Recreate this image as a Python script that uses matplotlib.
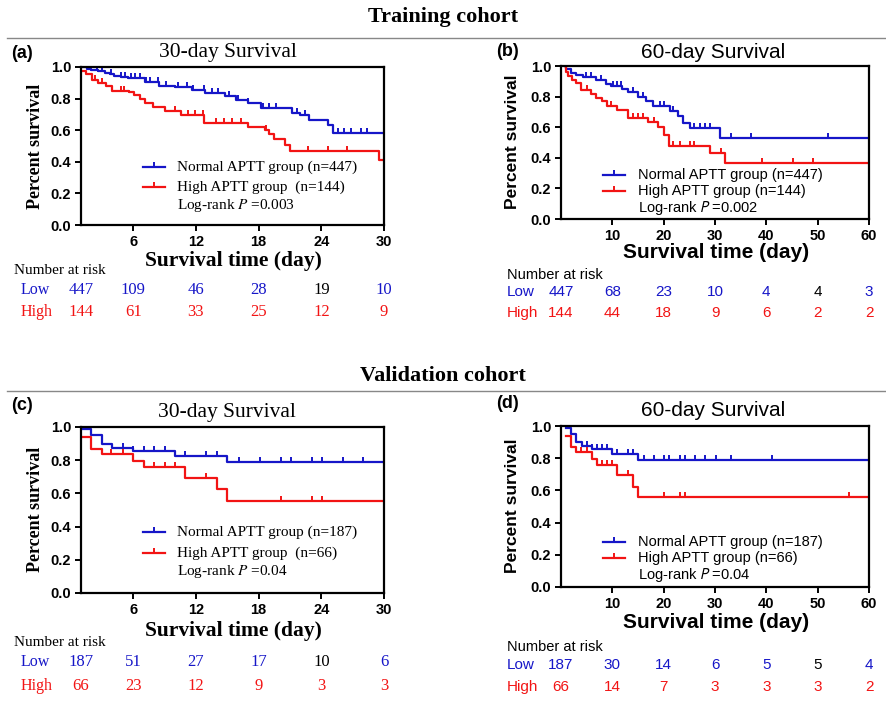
import numpy as np
import matplotlib
matplotlib.use('Agg')
import matplotlib.pyplot as plt
import matplotlib.transforms as mtransforms
from matplotlib.path import Path
from matplotlib.lines import Line2D

W, H = 887, 708
BLUE = '#1616c8'
RED = '#f21414'
SERIF = 'Liberation Serif'
SANS = 'Liberation Sans'

# ---------------- training cohort, 30-day (a)
a_low_t = [1.0, 1.6, 2.0, 2.6, 3.3, 3.8, 4.2, 4.8, 5.5, 7.1, 8.5, 10.0, 11.6, 12.9, 14.8, 15.8, 17.0, 18.2, 21.2, 22.0, 22.8, 24.6, 25.1, 30.0]
a_low_s = [1.0, 0.99, 0.984, 0.976, 0.964, 0.955, 0.946, 0.938, 0.93, 0.905, 0.882, 0.872, 0.852, 0.835, 0.814, 0.792, 0.77, 0.738, 0.712, 0.696, 0.664, 0.632, 0.585, 0.585]
a_low_cens = [2.5, 3.0, 3.9, 4.85, 5.2, 5.8, 6.2, 6.6, 7.2, 7.6, 8.4, 9.1, 10.3, 11.1, 11.7, 12.8, 13.5, 14.1, 15.2, 16.0, 17.0,
              18.4, 19.0, 19.7, 21.7, 22.4, 25.6, 26.2, 26.8, 27.8, 28.4]
a_high_t = [1.0, 1.5, 2.1, 2.6, 3.4, 4.0, 5.6, 6.1, 6.6, 7.1, 7.9, 9.0, 10.6, 12.8, 17.0, 18.6, 19.0, 19.5, 20.5, 21.0, 29.5, 30.0]
a_high_s = [0.975, 0.955, 0.92, 0.90, 0.877, 0.85, 0.84, 0.824, 0.80, 0.77, 0.75, 0.72, 0.696, 0.647, 0.62, 0.60, 0.578, 0.546, 0.504, 0.466, 0.41, 0.41]
a_high_cens = [2.3, 3.0, 4.8, 5.1, 10.0, 11.2, 11.9, 12.7, 13.9, 14.7, 15.5, 16.3, 18.7, 22.7, 24.6, 26.5]
a_days = [1, 6, 12, 18, 24, 30]
a_risk_low = [447, 109, 46, 28, 19, 10]
a_risk_high = [144, 61, 33, 25, 12, 9]

# ---------------- training cohort, 60-day (b)
b_low_t = [0.8, 0.9, 2.0, 3.0, 4.3, 6.9, 8.8, 9.8, 11.8, 13.1, 15.0, 16.6, 18.0, 21.2, 22.8, 23.8, 25.1, 31.0, 60.0]
b_low_s = [1.0, 0.978, 0.956, 0.943, 0.928, 0.906, 0.884, 0.869, 0.85, 0.83, 0.797, 0.77, 0.74, 0.705, 0.67, 0.63, 0.595, 0.53, 0.53]
b_low_cens = [4.9, 5.9, 7.8, 10.1, 11.0, 11.6, 14.0, 16.0, 19.2, 20.1, 21.8, 26.0, 27.0, 28.0, 29.0, 33.2, 37.1, 52.0]
b_high_t = [0.8, 0.9, 1.4, 2.1, 3.0, 3.8, 5.9, 6.9, 7.9, 9.0, 11.0, 13.1, 16.9, 18.9, 20.1, 21.0, 29.0, 32.0, 60.0]
b_high_s = [1.0, 0.96, 0.936, 0.91, 0.889, 0.845, 0.815, 0.79, 0.77, 0.74, 0.71, 0.66, 0.635, 0.60, 0.55, 0.48, 0.43, 0.368, 0.368]
b_high_cens = [5.1, 9.8, 14.0, 15.0, 16.0, 18.1, 21.8, 23.1, 25.1, 26.0, 31.1, 39.2, 45.2, 49.1]
b_days = [0, 10, 20, 30, 40, 50, 60]
b_risk_low = [447, 68, 23, 10, 4, 4, 3]
b_risk_high = [144, 44, 18, 9, 6, 2, 2]

# ---------------- validation cohort (c) 30-day and (d) 60-day
v_low_t = [1.0, 2.0, 3.0, 4.0, 6.0, 10.0, 15.0, 60.0]
v_low_s = [0.99, 0.952, 0.90, 0.874, 0.856, 0.826, 0.79, 0.79]
v_low_cens = [5.0, 6.0, 7.0, 8.0, 9.0, 11.0, 13.0, 14.0, 16.1, 18.1, 20.1, 21.1, 23.1, 24.1, 26.1, 28.0, 30.1, 33.1, 41.1]
v_high_t = [1.0, 2.0, 3.0, 6.0, 7.0, 11.0, 14.0, 15.0, 60.0]
v_high_s = [0.94, 0.87, 0.836, 0.796, 0.76, 0.694, 0.624, 0.556, 0.556]
v_high_cens = [3.9, 5.0, 8.0, 9.0, 10.0, 13.0, 20.1, 23.1, 24.1, 56.1]
c_risk_low = [187, 51, 27, 17, 10, 6]
c_risk_high = [66, 23, 12, 9, 3, 3]
d_risk_low = [187, 30, 14, 6, 5, 5, 4]
d_risk_high = [66, 14, 7, 3, 3, 3, 2]

tick_mark = Path([(0, 0), (0, 1)], [Path.MOVETO, Path.LINETO])

fig = plt.figure(figsize=(W / 100, H / 100), dpi=100)


def fx(x):
    return x / W


def fy(y):
    return 1 - y / H


def curve(ax, t, s, cens, color):
    t = np.array(t)
    s = np.array(s)
    ax.step(t, s, where='post', color=color, lw=1.6)
    c = np.array(cens)
    cy = s[np.searchsorted(t, c, side='right') - 1]
    ax.plot(c, cy, ls='none', marker=tick_mark, ms=7, mew=1.4, color=color)


def panel(box, xlim, xticks, data, p, texts, risk, font):
    l, t, r, b = box
    ax = fig.add_axes([fx(l), fy(b), fx(r - l), (b - t) / H])
    curve(ax, data[0], data[1], data[2], BLUE)
    curve(ax, data[3], data[4], data[5], RED)
    ax.set_xlim(xlim)
    ax.set_ylim(0, 1.0)
    ax.set_xticks(xticks)
    ax.set_yticks([0, 0.2, 0.4, 0.6, 0.8, 1.0])
    ax.set_yticklabels(['0.0', '0.2', '0.4', '0.6', '0.8', '1.0'])
    for sp in ax.spines.values():
        sp.set_linewidth(1.6)
    ax.tick_params(direction='out', length=4, width=1.4, labelsize=10.5, pad=3)
    for lab in ax.get_xticklabels() + ax.get_yticklabels():
        lab.set_fontweight('bold')
        lab.set_family(SANS)

    serif = font == SERIF
    mfam = 'stix' if serif else 'stixsans'
    # texts: letter, title, ylabel pos, xlabel pos, legend pos
    letter, lpos, title, tpos, ypos, xpos, leg = texts
    fig.text(fx(lpos[0]), fy(lpos[1]), letter, family=SANS, weight='bold', size=13, ha='left', va='center')
    fig.text(fx(tpos[0]), fy(tpos[1]), title, family=font, size=15.5 if serif else 15, ha='center', va='center')
    fig.text(fx(ypos[0]), fy(ypos[1]), 'Percent survival', family=font, weight='bold', size=13 if serif else 12.5,
             rotation=90, ha='center', va='center')
    fig.text(fx(xpos[0]), fy(xpos[1]), 'Survival time (day)', family=font, weight='bold', size=15.5 if serif else 15,
             ha='center', va='center')

    lx1, lx2, ly1, ly2, ly3, tx, n_low, n_high = leg
    fsz = 11 if serif else 10.5
    for y, col, lab in [(ly1, BLUE, 'Normal APTT group (n=%d)' % n_low),
                        (ly2, RED, ('High APTT group  (n=%d)' if serif else 'High APTT group (n=%d)') % n_high)]:
        fig.add_artist(Line2D([fx(lx1), fx(lx2)], [fy(y), fy(y)], color=col, lw=1.6))
        fig.add_artist(Line2D([fx((lx1 + lx2) / 2)], [fy(y)], ls='none', marker=tick_mark, ms=7, mew=1.4, color=col))
        fig.text(fx(tx), fy(y), lab, family=font, size=fsz, ha='left', va='center')
    fig.text(fx(tx), fy(ly3), 'Log-rank $P$ =' + p, family=font, size=fsz, ha='left', va='center',
             math_fontfamily=mfam)

    days, r_low, r_high, black_i, nx, ny, lowy, highy, labx = risk
    fig.text(fx(nx), fy(ny), 'Number at risk', family=font, size=11 if serif else 10.5, ha='left', va='center')
    fig.text(fx(labx), fy(lowy), 'Low', family=font, size=11.5 if serif else 11, color=BLUE, ha='left', va='center')
    fig.text(fx(labx), fy(highy), 'High', family=font, size=11.5 if serif else 11, color=RED, ha='left', va='center')
    trans = mtransforms.blended_transform_factory(ax.transData, fig.transFigure)
    for i, d in enumerate(days):
        ax.text(d, fy(lowy), str(r_low[i]), transform=trans, family=font, size=12 if serif else 11,
                color='black' if i == black_i else BLUE, ha='center', va='center', clip_on=False)
        ax.text(d, fy(highy), str(r_high[i]), transform=trans, family=font, size=12 if serif else 11,
                color=RED, ha='center', va='center', clip_on=False)
    return ax


# headers and separator lines
fig.text(fx(443), fy(17), 'Training cohort', family=SERIF, weight='bold', size=16, ha='center', va='center')
fig.add_artist(Line2D([fx(7), 1], [fy(38), fy(38)], color='#888888', lw=1))
fig.text(fx(443), fy(376), 'Validation cohort', family=SERIF, weight='bold', size=16, ha='center', va='center')
fig.add_artist(Line2D([fx(7), 1], [fy(391), fy(391)], color='#888888', lw=1))

panel((81, 67, 384, 225), (1, 30), [6, 12, 18, 24, 30],
      (a_low_t, a_low_s, a_low_cens, a_high_t, a_high_s, a_high_cens), '0.003',
      ('(a)', (11, 53), '30-day Survival', (228, 53), (35, 146), (233, 261),
       (143, 165, 167, 187, 205, 177, 447, 144)),
      (a_days, a_risk_low, a_risk_high, 4, 14, 270, 290, 312, 21), SERIF)

panel((561, 66, 869, 219), (0, 60), [10, 20, 30, 40, 50, 60],
      (b_low_t, b_low_s, b_low_cens, b_high_t, b_high_s, b_high_cens), '0.002',
      ('(b)', (496, 52), '60-day Survival', (713, 52), (513, 142), (716, 253),
       (603, 625, 175, 191, 208, 638, 447, 144)),
      (b_days, b_risk_low, b_risk_high, 5, 507, 275, 292, 313, 507), SANS)

panel((81, 427, 384, 593), (1, 30), [6, 12, 18, 24, 30],
      (v_low_t, v_low_s, v_low_cens, v_high_t, v_high_s, v_high_cens), '0.04',
      ('(c)', (11, 405), '30-day Survival', (227, 412), (35, 509), (233, 631),
       (143, 165, 532, 553, 572, 177, 187, 66)),
      (a_days, c_risk_low, c_risk_high, 4, 14, 642, 662, 686, 21), SERIF)

panel((561, 426, 869, 587), (0, 60), [10, 20, 30, 40, 50, 60],
      (v_low_t, v_low_s, v_low_cens, v_high_t, v_high_s, v_high_cens), '0.04',
      ('(d)', (496, 404), '60-day Survival', (713, 411), (513, 506), (716, 623),
       (603, 625, 542, 558, 575, 638, 187, 66)),
      (b_days, d_risk_low, d_risk_high, 5, 507, 647, 665, 687, 507), SANS)

plt.savefig('out.png', dpi=100)
